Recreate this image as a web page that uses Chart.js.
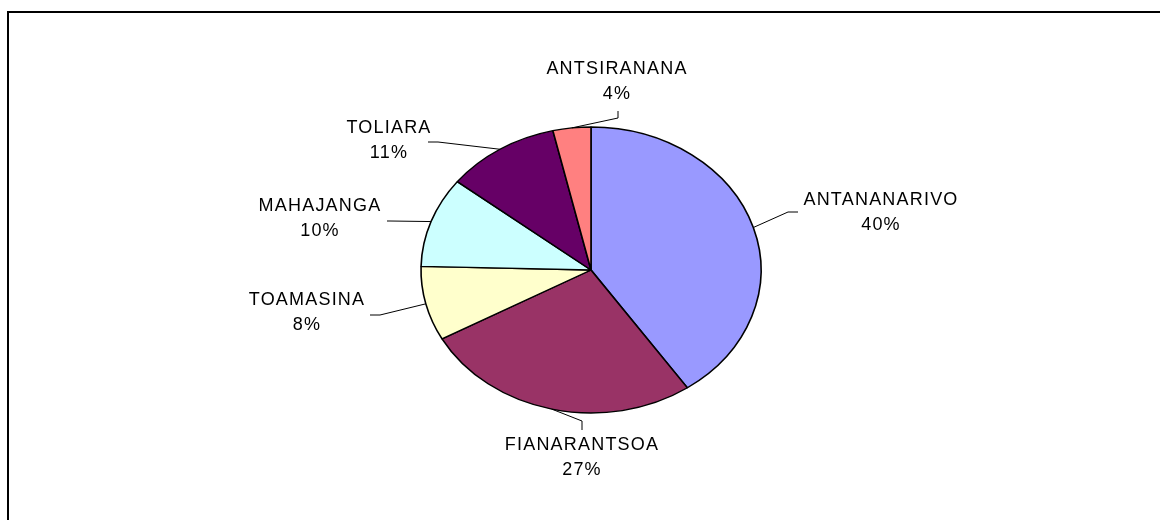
<!DOCTYPE html>
<html>
<head>
<meta charset="utf-8">
<script src="https://cdn.jsdelivr.net/npm/chart.js@4"></script>
<style>
  html, body { margin: 0; padding: 0; background: #fff; }
  #wrap { position: relative; width: 1160px; height: 520px; overflow: hidden; }
  #frame { position: absolute; left: 7px; top: 11px; width: 1200px; height: 600px;
           border-top: 2px solid #000; border-left: 2px solid #000; }
  canvas { position: absolute; left: 0; top: 0; }
</style>
</head>
<body>
<div id="wrap">
  <div id="frame"></div>
  <canvas id="pieChart" width="1160" height="520"></canvas>
</div>
<script>
// data
var regions = ["ANTANANARIVO", "FIANARANTSOA", "TOAMASINA", "MAHAJANGA", "TOLIARA", "ANTSIRANANA"];
var shares = [40.4, 26.6, 8.4, 10.2, 10.8, 3.6];
var colors = ["#9999FF", "#993366", "#FFFFCC", "#CCFFFF", "#660066", "#FF8080"];

// label layout: elbow + end of leader line, centre of the label text
var labelLayout = [
  { elbow: [788, 212], end: [798, 212], text: [881, 200] },
  { elbow: [582, 421], end: [582, 430], text: [582, 445] },
  { elbow: [380, 315], end: [370, 315], text: [307, 300] },
  { elbow: [390, 221], end: [387, 221], text: [320, 206] },
  { elbow: [438, 142], end: [428, 142], text: [389, 128] },
  { elbow: [618, 118], end: [618, 111], text: [617, 69] }
];

var squashY = 143 / 170; // pie is drawn as a flattened ellipse

// flatten the pie vertically around its centre
var squash = {
  id: 'squash',
  beforeDatasetsDraw: function(chart) {
    var a = chart.getDatasetMeta(0).data[0];
    var ctx = chart.ctx;
    ctx.save();
    ctx.translate(a.x, a.y);
    ctx.scale(1, squashY);
    ctx.translate(-a.x, -a.y);
  },
  afterDatasetsDraw: function(chart) {
    chart.ctx.restore();
  }
};

// labels with leader lines
var pieLabels = {
  id: 'pieLabels',
  afterDraw: function(chart) {
    var ctx = chart.ctx;
    var arcs = chart.getDatasetMeta(0).data;
    ctx.save();
    ctx.strokeStyle = '#000';
    ctx.lineWidth = 1;
    ctx.fillStyle = '#000';
    ctx.font = '18px "Liberation Sans", Arial, sans-serif';
    ctx.textAlign = 'center';
    ctx.textBaseline = 'middle';
    if ('letterSpacing' in ctx) ctx.letterSpacing = '1.2px';
    for (var i = 0; i < arcs.length; i++) {
      var a = arcs[i];
      var mid = (a.startAngle + a.endAngle) / 2;
      var sx = a.x + Math.cos(mid) * a.outerRadius;
      var sy = a.y + Math.sin(mid) * a.outerRadius * squashY;
      var L = labelLayout[i];
      ctx.beginPath();
      ctx.moveTo(sx, sy);
      ctx.lineTo(L.elbow[0], L.elbow[1]);
      ctx.lineTo(L.end[0], L.end[1]);
      ctx.stroke();
      ctx.fillText(regions[i], L.text[0], L.text[1]);
      ctx.fillText(Math.round(shares[i]) + '%', L.text[0], L.text[1] + 25);
    }
    ctx.restore();
  }
};

var ctx = document.getElementById('pieChart').getContext('2d');
var chart = new Chart(ctx, {
  type: 'pie',
  data: {
    labels: regions,
    datasets: [{
      data: shares,
      backgroundColor: colors,
      borderColor: '#000',
      borderWidth: 1.6,
      radius: 170
    }]
  },
  options: {
    responsive: false,
    animation: false,
    events: [],
    layout: { padding: { left: 300, right: 278, top: 100, bottom: 80 } },
    plugins: {
      legend: { display: false },
      tooltip: { enabled: false }
    }
  },
  plugins: [squash, pieLabels]
});
</script>
</body>
</html>
